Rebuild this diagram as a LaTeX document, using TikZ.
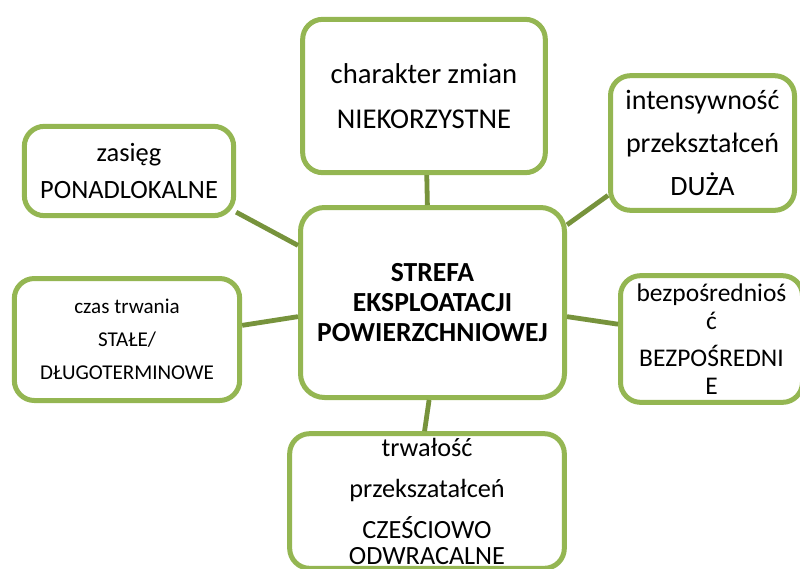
\documentclass[tikz,border=0pt]{standalone}
\usepackage{fontspec}
\setmainfont{Carlito}
\definecolor{LeafGreen}{RGB}{148,182,82}
\definecolor{OliveGreen}{RGB}{119,147,60}

\tikzset{
  trait/.style={draw=LeafGreen,line width=3.75pt,rounded corners=15pt,
    fill=white,align=center,inner sep=0pt},
  link/.style={draw=OliveGreen,line width=3.6pt}
}

\begin{document}
\begin{tikzpicture}[x=0.75pt,y=-0.75pt]
      \clip (0,0) rectangle (800,568);
      \node[trait,rounded corners=18pt,minimum width=198pt,minimum height=142.5pt,
        font=\bfseries\fontsize{20.7}{22.5}\selectfont] (strefa) at (432.5,302.5)
        {STREFA\\EKSPLOATACJI\\POWIERZCHNIOWEJ};
      \node[trait,minimum width=182pt,minimum height=115pt,
        font=\fontsize{21.5}{33.75}\selectfont] (charakter) at (424,96)
        {charakter zmian\\NIEKORZYSTNE};
      \node[trait,minimum width=138pt,minimum height=101pt,
        font=\fontsize{21}{32}\selectfont] (intens) at (702.5,143)
        {intensywność\\przekształceń\\DUŻA};
      \node[trait,minimum width=157pt,minimum height=67pt,
        font=\fontsize{19.8}{27.75}\selectfont] (zasieg) at (129,171)
        {zasięg\\PONADLOKALNE};
      \node[trait,minimum width=169pt,minimum height=91.5pt,
        font=\fontsize{15.8}{24.75}\selectfont] (czas) at (127,339.5)
        {czas trwania\\STAŁE/\\DŁUGOTERMINOWE};
      \node[trait,minimum width=136.5pt,minimum height=95pt,
        font=\fontsize{19.1}{21}\selectfont] (bezpos) at (711.5,339)
        {bezpośrednioś\\ć\\[7pt]BEZPOŚREDNI\\E};
      \node[trait,minimum width=206pt,minimum height=101pt,
        font=\fontsize{19.7}{31}\selectfont] (trwalosc) at (427,501)
        {trwałość\\przekszatałceń\\CZEŚCIOWO\\[-12pt]ODWRACALNE};
      % connectors, laid over the box edges
      \draw[link] (charakter.-88) -- (strefa.93);
      \draw[link] (intens.209) -- (strefa.30);
      \draw[link] (zasieg.-21) -- (strefa.157);
      \draw[link] (czas.7.7) -- (strefa.186.8);
      \draw[link] (bezpos.171.5) -- (strefa.-6.8);
      \draw[link] (trwalosc.92) -- (strefa.-92);
    \end{tikzpicture}
\end{document}
